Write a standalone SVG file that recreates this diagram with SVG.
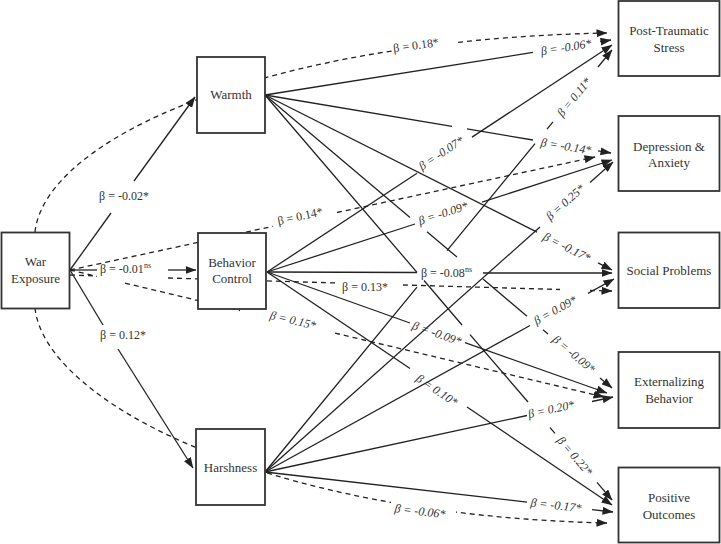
<svg xmlns="http://www.w3.org/2000/svg" width="721" height="544" viewBox="0 0 721 544">
<style>
.c{stroke:#222;stroke-width:1.3;fill:none}
.d{stroke-dasharray:5 4}
.a{marker-end:url(#ah)}
.l{font-family:"Liberation Serif",serif;font-size:12px;fill:#333}
.i{font-style:italic}
.m{text-anchor:middle}
.node rect{fill:#fff;stroke:#333;stroke-width:1.8}
.node text{font-family:"Liberation Serif",serif;font-size:13px;fill:#333;text-anchor:middle}
</style>
<defs>
<marker id="ah" viewBox="0 0 11 8" refX="10.5" refY="4" markerWidth="11" markerHeight="8" markerUnits="userSpaceOnUse" orient="auto"><path d="M0,0 L11,4 L0,8 z" fill="#222" stroke="none"/></marker>
<mask id="mtop" maskUnits="userSpaceOnUse" x="0" y="0" width="721" height="544"><rect x="0" y="0" width="721" height="544" fill="#fff"/><rect x="392" y="30" width="63" height="28" fill="#000"/></mask>
<mask id="mbot" maskUnits="userSpaceOnUse" x="0" y="0" width="721" height="544"><rect x="0" y="0" width="721" height="544" fill="#fff"/><rect x="391" y="496" width="65" height="28" fill="#000"/></mask>
</defs>
<g id="connectors">
<!-- War -> mediators -->
<path class="c" d="M70,270 L111,213"/><path class="c a" d="M134,181 L195,97"/>
<path class="c" d="M70,270 L97,270"/><path class="c a" d="M168,270 L196,270"/>
<path class="c" d="M70,270 L103,325"/><path class="c a" d="M118,349 L193,468"/>
<!-- War direct effects (dashed) -->
<path class="c d a" d="M35,232 C45,140 260,40 607,33" mask="url(#mtop)"/>
<path class="c d" d="M70,270 L273,226.3"/><path class="c d a" d="M337,212.5 L595,157"/>
<path class="c d" d="M70,275 L97,276 M168,278 L337,283 M403,285 L560,289.5"/><path class="c d a" d="M590,290.4 L612,291"/>
<path class="c d" d="M70,270 L97,276.4 M125,283.1 L240,310.5"/><path class="c d a" d="M335,333.1 L604,397"/>
<path class="c d a" d="M35,308 C45,400 260,515 607,523" mask="url(#mbot)"/>
<!-- Warmth -->
<path class="c" d="M265,95 L533,52.4"/><path class="c a" d="M600,41.7 L611,40"/>
<path class="c" d="M265,95 L452,126.3 M467,128.9 L533,140"/><path class="c a" d="M598,150.9 L611,153"/>
<path class="c" d="M265,95 L537,232.2"/><path class="c a" d="M598,262.9 L612,270"/>
<path class="c" d="M265,95 L410,217.4 M427,231.8 L457,257.1 M483,279.1 L527,316.2 M543,329.7 L548,334"/><path class="c a" d="M600,378 L612,388"/>
<path class="c" d="M265,95 L417,272.4 M424,280.5 L462,325 M470,334.6 L528,402 M550,427.6 L555,433.4"/><path class="c a" d="M597,482.4 L612,500"/>
<!-- Behavior Control -->
<path class="c" d="M267,272 L417,173.3"/><path class="c a" d="M472,137.1 L612,45"/>
<path class="c" d="M267,272 L415,224"/><path class="c a" d="M482,202.2 L612,160"/>
<path class="c" d="M267,272 L417,272.5"/><path class="c a" d="M483,273 L612,273"/>
<path class="c" d="M267,272 L410,323"/><path class="c a" d="M465,342.6 L607,393"/>
<path class="c" d="M267,272 L410,368.5"/><path class="c a" d="M467,407 L612,505"/>
<!-- Harshness -->
<path class="c" d="M265,472 L417,287.2 M447,250.7 L535,143.7 M547,129.1 L553,121.8"/><path class="c a" d="M598,67 L612,50"/>
<path class="c" d="M265,472 L540,227"/><path class="c a" d="M590,182.5 L613,162"/>
<path class="c" d="M265,472 L530,325.5"/><path class="c a" d="M588,293.4 L614,279"/>
<path class="c" d="M265,472 L527,415.5"/><path class="c a" d="M592,401.5 L613,397"/>
<path class="c" d="M265,472 L527,502.1"/><path class="c a" d="M592,509.6 L613,512"/>
<!-- labels -->
<text class="l m" x="124" y="200">β = -0.02*</text>
<text class="l" x="100" y="273">β = -0.01<tspan font-size="8" dy="-5">ns</tspan></text>
<text class="l m" x="123" y="339">β = 0.12*</text>
<text class="l m" dy="0.35em" transform="translate(416,45) rotate(-8)">β = 0.18*</text>
<text class="l m" dy="0.35em" transform="translate(300,216) rotate(-12)">β = 0.14*</text>
<text class="l m" x="365" y="291">β = 0.13*</text>
<text class="l m i" dy="0.35em" transform="translate(293,320) rotate(13.4)">β = 0.15*</text>
<text class="l m i" dy="0.35em" transform="translate(420,511) rotate(7)">β = -0.06*</text>
<text class="l m i" dy="0.35em" transform="translate(566,47) rotate(-9)">β = -0.06*</text>
<text class="l m i" dy="0.35em" transform="translate(566,146) rotate(9.5)">β = -0.14*</text>
<text class="l m i" dy="0.35em" transform="translate(567,247) rotate(26.8)">β = -0.17*</text>
<text class="l m i" dy="0.35em" transform="translate(574,354) rotate(40.2)">β = -0.09*</text>
<text class="l m i" dy="0.35em" transform="translate(575,456) rotate(49.4)">β = 0.22*</text>
<text class="l m i" dy="0.35em" transform="translate(441,153) rotate(-33.3)">β = -0.07*</text>
<text class="l m i" dy="0.35em" transform="translate(443,213) rotate(-18)">β = -0.09*</text>
<text class="l" x="421" y="277">β = -0.08<tspan font-size="8" dy="-5">ns</tspan></text>
<text class="l m i" dy="0.35em" transform="translate(437,333) rotate(19.6)">β = -0.09*</text>
<text class="l m i" dy="0.35em" transform="translate(437,390) rotate(34)">β = 0.10*</text>
<text class="l m i" dy="0.35em" transform="translate(574,97) rotate(-50.6)">β = 0.11*</text>
<text class="l m i" dy="0.35em" transform="translate(565,202) rotate(-41.7)">β = 0.25*</text>
<text class="l m i" dy="0.35em" transform="translate(555,310) rotate(-28.9)">β = 0.09*</text>
<text class="l m i" dy="0.35em" transform="translate(551,409) rotate(-12.2)">β = 0.20*</text>
<text class="l m i" dy="0.35em" transform="translate(556,505) rotate(6.6)">β = -0.17*</text>
</g>
<g id="war" class="node"><rect x="1.5" y="232.5" width="68" height="76"/><text x="35.5" y="266">War</text><text x="35.5" y="283">Exposure</text></g>
<g id="warmth" class="node"><rect x="197" y="57" width="68" height="76"/><text x="231" y="99">Warmth</text></g>
<g id="behavior" class="node"><rect x="198" y="233" width="68" height="76"/><text x="232" y="267">Behavior</text><text x="232" y="283">Control</text></g>
<g id="harshness" class="node"><rect x="196" y="429" width="69" height="76"/><text x="230.5" y="472">Harshness</text></g>
<g id="pts" class="node"><rect x="618.5" y="1" width="101" height="75"/><text x="669" y="35">Post-Traumatic</text><text x="669" y="52">Stress</text></g>
<g id="depression" class="node"><rect x="618.5" y="116" width="101" height="75"/><text x="669" y="151">Depression &amp;</text><text x="669" y="167">Anxiety</text></g>
<g id="social" class="node"><rect x="618.5" y="232.5" width="101" height="75.5"/><text x="669" y="275">Social Problems</text></g>
<g id="externalizing" class="node"><rect x="618.5" y="352" width="101" height="76"/><text x="669" y="386">Externalizing</text><text x="669" y="403">Behavior</text></g>
<g id="positive" class="node"><rect x="618.5" y="467.5" width="101" height="75"/><text x="669" y="502">Positive</text><text x="669" y="519">Outcomes</text></g>
</svg>
